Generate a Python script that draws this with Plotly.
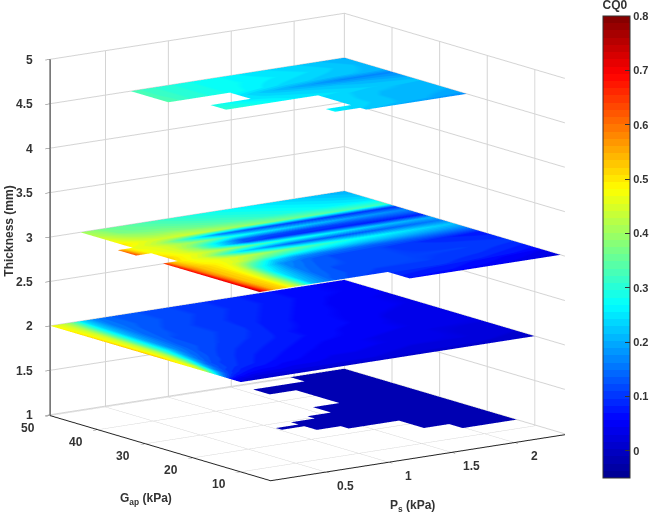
import numpy as np
import plotly.graph_objects as go

N = None
D = -0.015

# ---- thickness 4.5 mm ----
PS_45 = [0.7, 0.87, 1.19, 1.4, 1.6, 2.0, 2.4]
GAP_45 = [50, 46, 42, 40, 37.7, 36, 34.4, 33.4, 30, 27.8, 27.5, 25.5, 25, 24.3]
CQ_45 = [
    [.33, .31, .28, .27, .25, .23, .20],
    [.33, .31, .28, .27, .26, .24, .21],
    [.34, .31, .28, .26, .24, .22, .21],
    [N, N, .25, .22, .20, .17, .17],
    [N, .29, .25, .24, .23, .21, .19],
    [N, .30, .27, .25, .24, .22, .21],
    [N, .31, .28, .26, .25, .23, .22],
    [N, N, N, N, .24, .22, .21],
    [N, N, N, N, .24, .21, .21],
    [N, N, N, N, .24, .21, .20],
    [N, N, N, .26, .24, .21, .20],
    [N, N, N, .26, .23, .21, .19],
    [N, N, N, N, .23, .20, .18],
    [N, N, N, N, .22, .19, .17],
]

# ---- thickness 3 mm ----
PS_3 = [.18, .24, .3, .4, .5, .62, .8, 1.0, 1.2, 1.6, 2.0, 2.4]
GAP_3 = [50, 47, 44, 41, 39, 37, 35, 33.5, 31.5, 29.5, 27, 25, 23, 21, 18, 15, 12, 9, 8, 6, 4.6]
CQ_3 = [
    [N, N, .40, .38, .36, .35, .33, .31, .29, .26, .23, .20],
    [N, N, .42, .40, .37, .36, .35, .33, .31, .28, .25, .22],
    [N, N, .46, .43, .41, .39, .38, .36, .34, .30, .27, .25],
    [N, N, .50, .47, .45, .44, .44, .42, .40, .37, .34, .32],
    [.58, .50, .46, .45, .42, .36, .26, .16, .13, .11, .10, .10],
    [.62, .52, .47, .46, .44, .41, .38, .30, .26, .22, .19, .17],
    [.64, .54, .48, .46, .44, .38, .26, .14, .12, .11, .12, .13],
    [N, N, .50, .47, .44, .39, .25, .12, .10, .09, .08, .08],
    [N, N, .52, .48, .46, .43, .40, .34, .30, .26, .22, .20],
    [.66, .54, .50, .47, .44, .36, .24, .18, .14, .13, .14, .16],
    [.68, .56, .52, .48, .47, .45, .42, .38, .34, .28, .25, .22],
    [.70, .58, .53, .50, .47, .44, .36, .30, .26, .22, .20, .18],
    [.70, .58, .53, .50, .46, .36, .24, .18, .16, .14, .14, .13],
    [.72, .58, .53, .50, .44, .30, .18, .14, .12, .11, .09, .07],
    [.72, .60, .53, .50, .42, .26, .16, .13, .12, .11, .10, .09],
    [.72, .60, .53, .50, .40, .24, .15, .12, .12, .11, .11, .10],
    [.74, .62, .54, .50, .40, .22, .14, .12, .11, .11, .10, .08],
    [.76, .64, .54, .50, .40, .20, .13, .11, .10, .10, .08, .06],
    [N, N, N, N, N, N, N, N, .09, .08, .06, .04],
    [N, N, N, N, N, N, N, N, .08, .07, .05, .03],
    [N, N, N, N, N, N, N, N, .07, .05, .04, .02],
]

# ---- thickness 2 mm ----
PS_2 = [.06, .1, .15, .2, .25, .3, .4, .5, .62, .8, 1.0, 1.2, 1.6, 2.0, 2.4]
GAP_2 = [50, 45, 40, 35, 30, 27, 24, 21, 18, 15, 12, 10]
CQ_2 = [
    [.47, .46, .44, .40, .34, .25, .17, .14, .13, .12, .11, .10, .08, .06, .05],
    [.50, .47, .44, .38, .30, .23, .16, .14, .13, .12, .11, .10, .08, .06, .05],
    [.52, .47, .44, .36, .28, .21, .15, .13, .12, .11, .10, .09, .07, .05, .04],
    [.53, .47, .43, .34, .26, .19, .14, .12, .12, .11, .10, .08, .06, .05, .04],
    [.53, .47, .42, .32, .24, .17, .13, .12, .11, .10, .09, .07, .06, .04, .03],
    [.53, .47, .40, .28, .19, .15, .12, .11, .10, .09, .08, .07, .05, .04, .03],
    [.50, .46, .36, .22, .15, .13, .11, .10, .09, .08, .07, .06, .05, .04, .03],
    [.48, .44, .25, .15, .12, .11, .10, .09, .08, .07, .06, .05, .04, .03, .03],
    [.46, .32, .16, .12, .11, .10, .09, .08, .07, .06, .05, .05, .04, .03, .02],
    [.26, .16, .11, .09, .08, .07, .06, .06, .05, .05, .04, .04, .03, .03, .02],
    [.06, .05, .04, .04, .03, .03, .03, .03, .03, .03, .03, .03, .02, .02, .01],
    [.02, .02, .01, .01, .01, .01, .01, .01, .01, .01, .01, .01, .01, .01, .00],
]

# ---- thickness 1 mm ----
PS_1 = [1.0, 1.18, 1.37, 1.56, 1.77, 1.97, 2.4]
GAP_1 = [50, 48.3, 47, 43, 42.3, 35.2, 34.4, 31, 30.6, 29.5, 29, 27.5, 27.4, 26, 24, 23.5,
         23.4, 21.7, 21.2, 16, 15.4, 13.8]
CQ_1 = [
    [N, N, N, N, N, D, D],
    [N, N, N, N, N, D, D],
    [N, N, N, D, D, D, D],
    [N, N, N, D, D, D, D],
    [N, N, N, N, D, D, D],
    [N, N, N, N, D, D, D],
    [N, N, N, D, D, D, D],
    [N, N, N, D, D, D, D],
    [N, N, D, D, D, D, D],
    [N, N, D, D, D, D, D],
    [N, D, D, D, D, D, D],
    [N, D, D, D, D, D, D],
    [D, D, D, D, D, D, D],
    [D, D, D, D, D, D, D],
    [N, D, D, D, D, D, D],
    [N, D, D, D, D, D, D],
    [N, N, D, D, D, D, D],
    [N, N, D, D, D, D, D],
    [N, N, N, N, D, D, D],
    [N, N, N, N, D, D, D],
    [N, N, N, N, N, D, D],
    [N, N, N, N, N, D, D],
]

Z_TICKS = [1, 1.5, 2, 2.5, 3, 3.5, 4, 4.5, 5]
Z_LABELS = ["1", "1.5", "2", "2.5", "3", "3.5", "4", "4.5", "5"]
GAP_TICKS = [10, 20, 30, 40, 50]
PS_TICKS = [0.5, 1, 1.5, 2]
PS_LABELS = ["0.5", "1", "1.5", "2"]
PS_RANGE = [0.06, 2.4]
GAP_RANGE = [3.7, 50]
Z_RANGE = [0.99, 5]

JET = [(0, (0, 0, 143)), (.125, (0, 0, 255)), (.375, (0, 255, 255)),
       (.625, (255, 255, 0)), (.875, (255, 0, 0)), (1, (128, 0, 0))]


def jet_bands(n=64):
    pos = [p for p, _ in JET]
    scale = []
    for i in range(n):
        t = (i + .5) / n
        c = [int(np.interp(t, pos, [col[k] for _, col in JET])) for k in range(3)]
        scale.append([i / n, f"rgb({c[0]},{c[1]},{c[2]})"])
        scale.append([(i + 1) / n, f"rgb({c[0]},{c[1]},{c[2]})"])
    return scale


FONT = dict(family="Liberation Sans", size=12, color="#333333", weight="bold")
CB_FONT = dict(family="Liberation Sans", size=11, color="#333333", weight="bold")

fig = go.Figure()
for level, ps, gap, cq in [(1.0, PS_1, GAP_1, CQ_1), (2.0, PS_2, GAP_2, CQ_2),
                           (3.0, PS_3, GAP_3, CQ_3), (4.5, PS_45, GAP_45, CQ_45)]:
    c = np.array(cq, dtype=float)
    zz = np.where(np.isnan(c), np.nan, level)
    fig.add_trace(go.Surface(
        x=ps, y=gap, z=zz, surfacecolor=c, coloraxis="coloraxis",
        lighting=dict(ambient=1, diffuse=0, specular=0, fresnel=0, roughness=1),
        hoverinfo="skip", showlegend=False,
    ))


def axis(rng, vals, linecolor, linewidth):
    return dict(
        title=dict(text=""), range=rng, tickvals=vals, showticklabels=False,
        showgrid=True, gridcolor="#d4d4d4", gridwidth=2,
        showline=True, linecolor=linecolor, linewidth=linewidth,
        ticks="outside", ticklen=6, tickcolor=linecolor, tickwidth=1,
        showbackground=False, zeroline=False, showspikes=False,
    )


def label(x, y, z, text, xshift, yshift, xanchor="center", angle=0):
    return dict(x=x, y=y, z=z, text=text, showarrow=False, font=FONT,
                xshift=xshift, yshift=yshift, xanchor=xanchor, yanchor="middle",
                textangle=angle)


notes = []
for v, t in zip(Z_TICKS, Z_LABELS):
    notes.append(label(PS_RANGE[0], GAP_RANGE[1], v, t, -15, 0, "right"))
for v in GAP_TICKS:
    notes.append(label(PS_RANGE[0], v, Z_RANGE[0], str(v), -22, -12))
for v, t in zip(PS_TICKS, PS_LABELS):
    notes.append(label(v, GAP_RANGE[0], Z_RANGE[0], t, 20, -13))
notes.append(label(PS_RANGE[0], 25, Z_RANGE[0], "G<sub>ap</sub> (kPa)", -23, -48))
notes.append(label(1.0, GAP_RANGE[0], Z_RANGE[0], "P<sub>s</sub> (kPa)", 24, -43))
notes.append(label(PS_RANGE[0], GAP_RANGE[1], 3, "Thickness (mm)", -42, 6, angle=-90))

fig.update_layout(
    width=651, height=512,
    margin=dict(l=0, r=0, t=0, b=0, autoexpand=False),
    paper_bgcolor="white",
    font=FONT,
    scene=dict(
        domain=dict(x=[0, 0.9447], y=[0.0516, 0.9816]),
        aspectmode="manual", aspectratio=dict(x=1.529, y=1.574, z=1.533),
        camera=dict(
            projection=dict(type="orthographic"),
            up=dict(x=0, y=0, z=1),
            center=dict(x=0, y=0, z=0),
            eye=dict(x=-1.15, y=-1.58, z=0.43),
        ),
        xaxis=axis(PS_RANGE, PS_TICKS, "#222222", 2),
        yaxis=axis(GAP_RANGE, GAP_TICKS, "#222222", 2),
        zaxis=axis(Z_RANGE, Z_TICKS, "#666666", 3),
        annotations=notes,
    ),
    coloraxis=dict(
        cmin=-0.05, cmax=0.8, colorscale=jet_bands(),
        colorbar=dict(
            title=dict(text="CQ0", side="top", font=FONT),
            thickness=27, thicknessmode="pixels",
            len=481, lenmode="pixels", x=603 / 651, xanchor="left",
            y=1 + 3 / 512, yanchor="top", xpad=0, ypad=0,
            tickmode="linear", tick0=0, dtick=0.1, tickformat=".1~f",
            tickfont=CB_FONT, ticklabeloverflow="allow",
            ticks="inside", ticklen=5, tickcolor="#333333",
            outlinecolor="#333333", outlinewidth=1,
        ),
    ),
)

fig.write_html("out.html", post_script="document.body.style.margin='0';",
               config=dict(displayModeBar=False))
